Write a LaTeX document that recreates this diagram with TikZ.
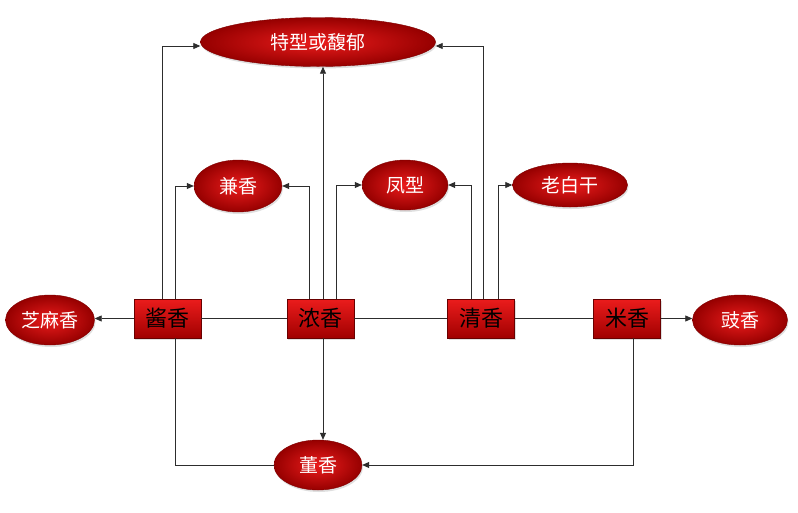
\documentclass[tikz,border=0pt]{standalone}
\usepackage{fontspec}
\setmainfont{Noto Sans CJK SC}
\usetikzlibrary{shapes.geometric,arrows.meta,shadows}
\definecolor{redhi}{RGB}{235,28,28}
\definecolor{reddk}{RGB}{150,0,0}
\definecolor{lnc}{RGB}{45,45,45}
\begin{document}
\begin{tikzpicture}[x=1pt,y=-1pt,
  oval/.style={ellipse, inner sep=0pt, font=\fontsize{19}{19}\selectfont, text=white,
    inner color=redhi, outer color=reddk, draw=reddk!85!black, line width=0.4pt,
    drop shadow={opacity=0.25, shadow xshift=1pt, shadow yshift=-2pt}},
  box/.style={rectangle, minimum width=67pt, minimum height=39pt, inner sep=0pt,
    top color=redhi, bottom color=reddk!90!red, draw=reddk!70!black, line width=0.6pt,
    font=\fontsize{22}{22}\selectfont, text=black,
    drop shadow={opacity=0.25, shadow xshift=1pt, shadow yshift=-2pt}},
  conn/.style={draw=lnc, line width=0.8pt},
  arr/.style={conn, -{Triangle[length=7pt,width=6pt]}}]
\fill[white] (0,0) rectangle (798,512);
\useasboundingbox (0,0) rectangle (798,512);
\node[box] (jiang) at (167.5,318.5) {酱香};
\node[box] (nong) at (320.5,318.5) {浓香};
\node[box] (qing) at (481,318.5) {清香};
\node[box] (mi) at (627,318.5) {米香};
\node[oval, minimum width=235pt, minimum height=49pt] (tx) at (318,42) {特型或馥郁};
\node[oval, minimum width=88pt, minimum height=52pt] (jian) at (238,186) {兼香};
\node[oval, minimum width=86pt, minimum height=50pt] (feng) at (405,185) {凤型};
\node[oval, minimum width=115pt, minimum height=44pt] (lao) at (570,185) {老白干};
\node[oval, minimum width=89pt, minimum height=50pt] (zhi) at (50,320) {芝麻香};
\node[oval, minimum width=95pt, minimum height=50pt] (chi) at (740,320) {豉香};
\node[oval, minimum width=88pt, minimum height=50pt] (dong) at (318,465) {董香};
% upward connectors
\draw[arr] ([xshift=-5.5pt]jiang.north) |- ([yshift=-4pt]tx.west);
\draw[arr] ([xshift=7.5pt]jiang.north) |- (jian.west);
\draw[arr] ([xshift=-11.5pt]nong.north) |- (jian.east);
\draw[arr] ([xshift=2.5pt]nong.north) -- ([xshift=2.5pt]nong.north |- tx.south);
\draw[arr] ([xshift=15.5pt]nong.north) |- (feng.west);
\draw[arr] ([xshift=-10pt]qing.north) |- (feng.east);
\draw[arr] ([xshift=2pt]qing.north) |- ([yshift=-4pt]tx.east);
\draw[arr] ([xshift=17pt]qing.north) |- (lao.west);
% horizontal row
\draw[arr] (jiang.west) -- (jiang.west -| zhi.east);
\draw[conn] (jiang.east) -- (nong.west);
\draw[conn] (nong.east) -- (qing.west);
\draw[conn] (qing.east) -- (mi.west);
\draw[arr] (mi.east) -- (mi.east -| chi.west);
% downward connectors
\draw[conn] ([xshift=7.5pt]jiang.south) |- (dong.west);
\draw[arr] ([xshift=2.5pt]nong.south) -- ([xshift=2.5pt]nong.south |- dong.north);
\draw[arr] ([xshift=6pt]mi.south) |- (dong.east);
\end{tikzpicture}
\end{document}
